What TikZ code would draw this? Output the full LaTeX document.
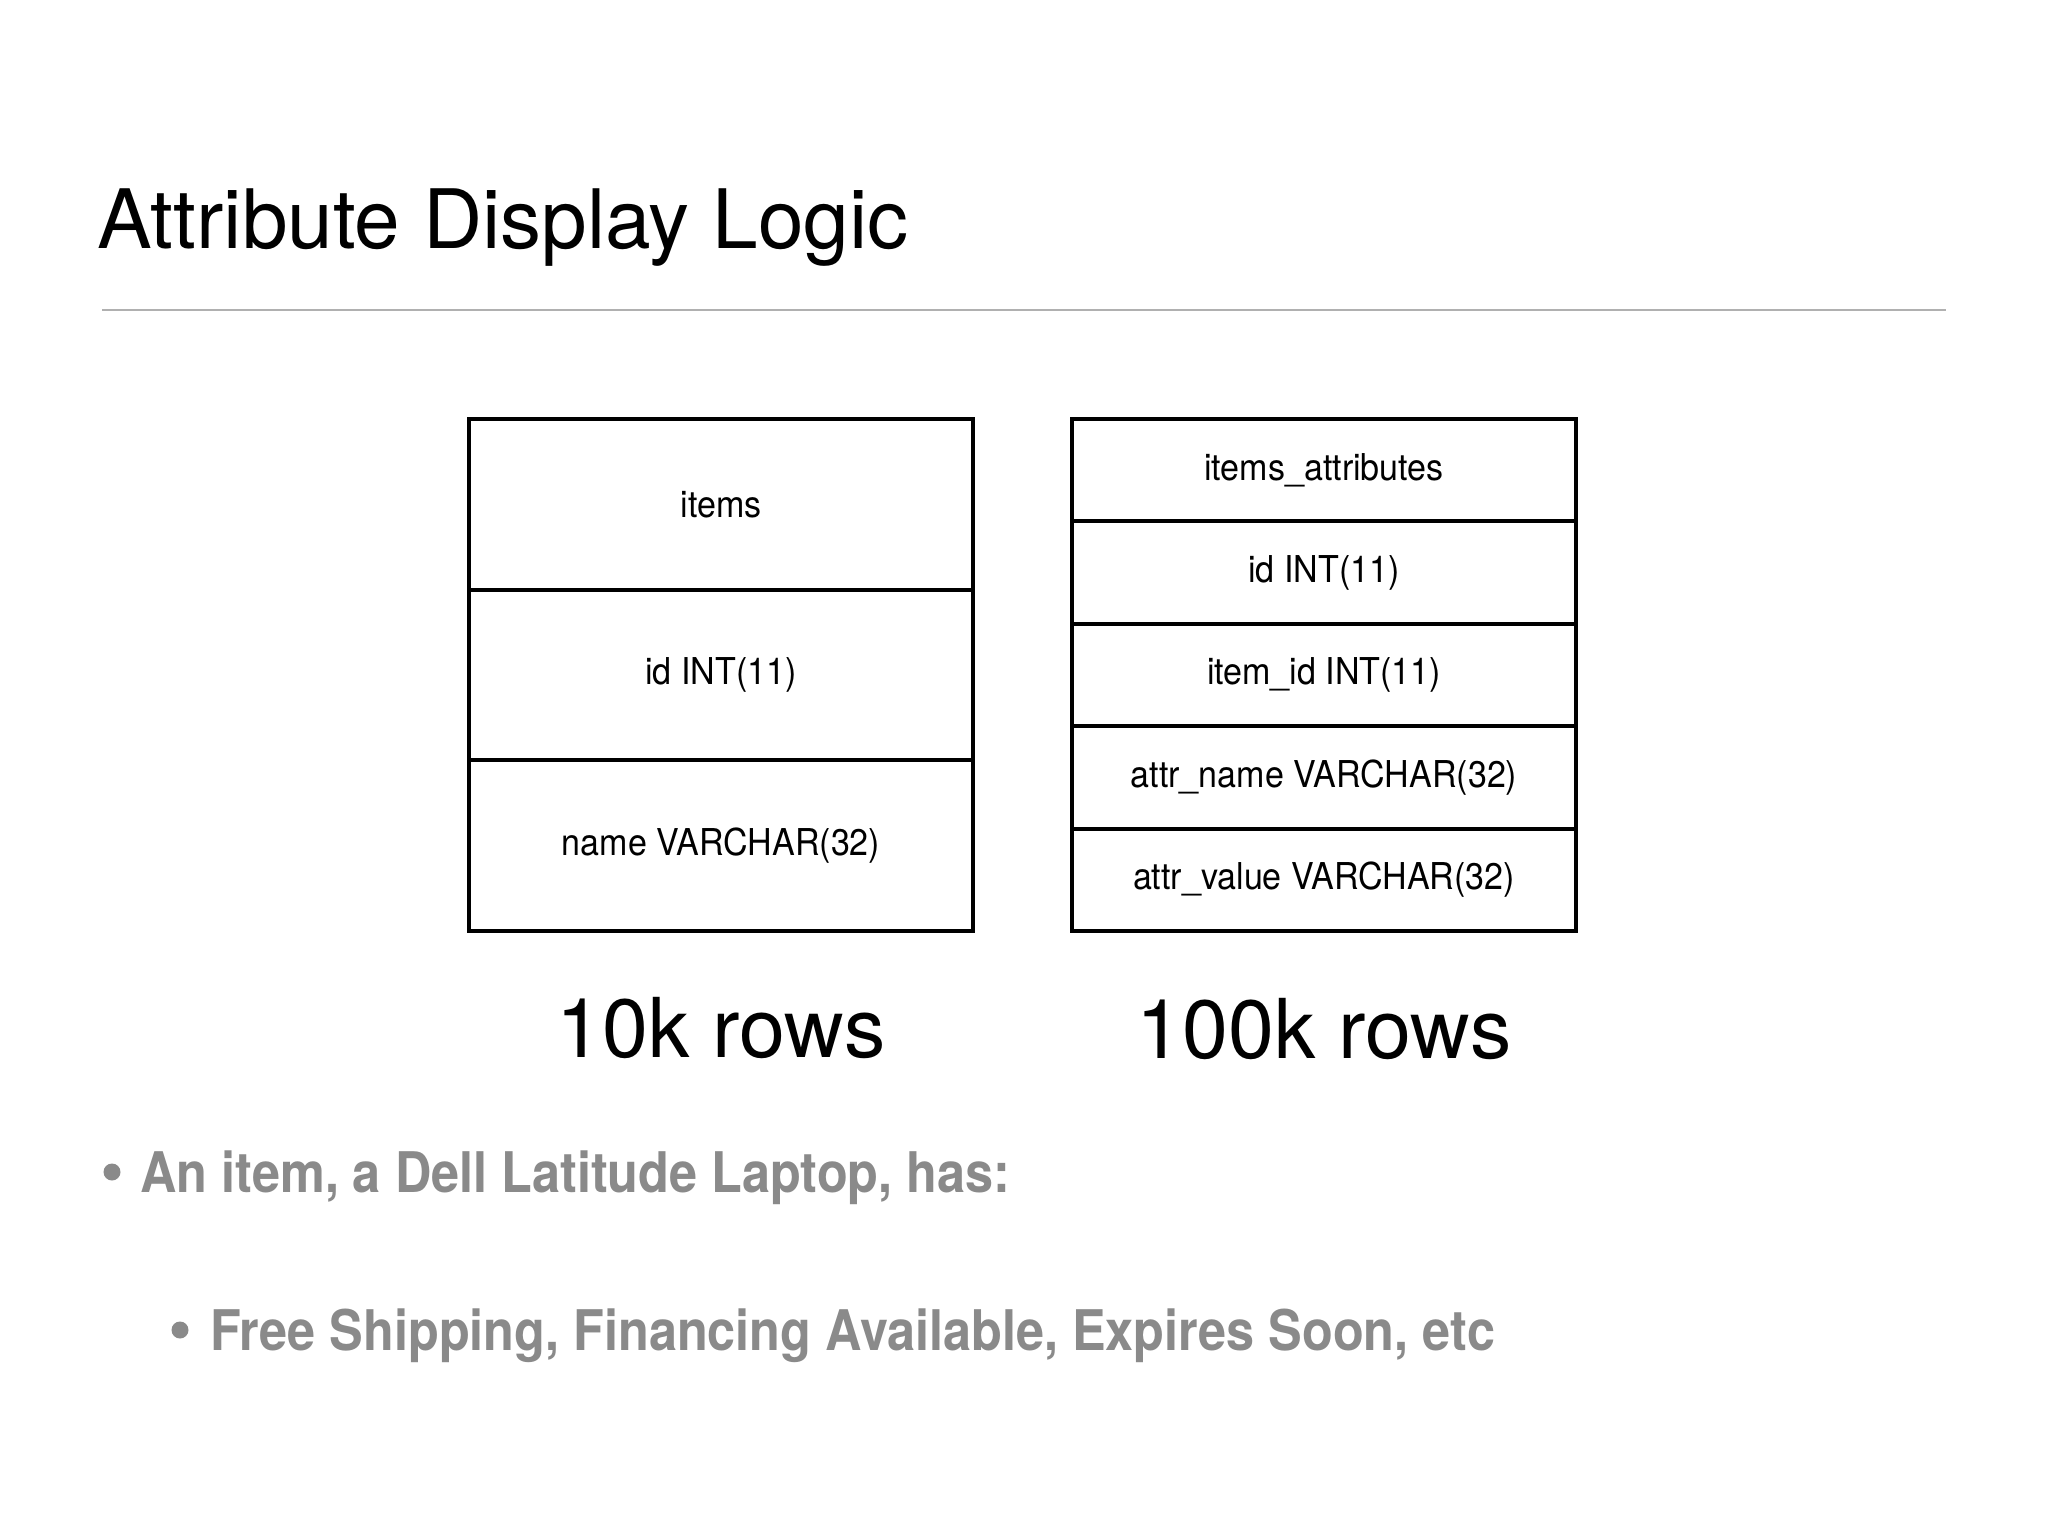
\documentclass[tikz,border=0pt]{standalone}
\usepackage{fontspec}
\setmainfont{TeX Gyre Heros}
\newfontfamily\tabfont{TeX Gyre Heros}[FakeStretch=0.92]
\newfontfamily\bulletfont{TeX Gyre Heros}[FakeStretch=0.9]
\definecolor{rulegray}{RGB}{176,176,176}
\definecolor{bulletgray}{RGB}{138,138,138}
\begin{document}
\begin{tikzpicture}[x=0.5pt,y=-0.5pt,
  cell/.style={draw=black,line width=2pt,rectangle,inner sep=0pt,outer sep=0pt,
    anchor=north west,minimum width=252pt,font=\tabfont\fontsize{18.5}{18.5}\selectfont},
  cellL/.style={cell,minimum height=85.33pt},
  cellR/.style={cell,minimum height=51.2pt},
  rowlabel/.style={anchor=base,font=\fontsize{41.3}{41.3}\selectfont},
  bdot/.style={circle,fill=bulletgray,inner sep=0pt,minimum size=8.5pt},
  btext/.style={anchor=base west,text=bulletgray,font=\bulletfont\bfseries\fontsize{28}{28}\selectfont}]
\useasboundingbox (0,0) rectangle (2048,1536);
\fill[white] (0,0) rectangle (2048,1536);

% title and rule
\node[anchor=base west,inner sep=0pt,font=\fontsize{41}{41}\selectfont] (title) at (97,248) {Attribute Display Logic};
\coordinate (r1) at (102,310);
\coordinate (r2) at (1946,310);
\draw[rulegray,line width=1pt] (r1) -- (r2);

% left table
\node[cellL] (t1h) at (469,419) {items};
\node[cellL] (t1a) at (t1h.south west) {id INT(11)};
\node[cellL] (t1b) at (t1a.south west) {name VARCHAR(32)};

% right table
\node[cellR] (t2h) at (1072,419) {items\_attributes};
\node[cellR] (t2a) at (t2h.south west) {id INT(11)};
\node[cellR] (t2b) at (t2a.south west) {item\_id INT(11)};
\node[cellR] (t2c) at (t2b.south west) {attr\_name VARCHAR(32)};
\node[cellR] (t2d) at (t2c.south west) {attr\_value VARCHAR(32)};

% row counts
\path (t1b.south) ++(0,127) node[rowlabel] (l1) {10k rows};
\path (t2d.south) ++(0,127) node[rowlabel] (l2) {100k rows};

% bullets
\node[bdot] (d1) at (112,1172) {};
\node[btext,inner sep=0pt] (b1) at (140,1192) {An item, a Dell Latitude Laptop, has:};
\node[bdot] (d2) at (180,1330) {};
\node[btext,inner sep=0pt] (b2) at (210,1350) {Free Shipping, Financing Available, Expires Soon, etc};
\end{tikzpicture}
\end{document}
